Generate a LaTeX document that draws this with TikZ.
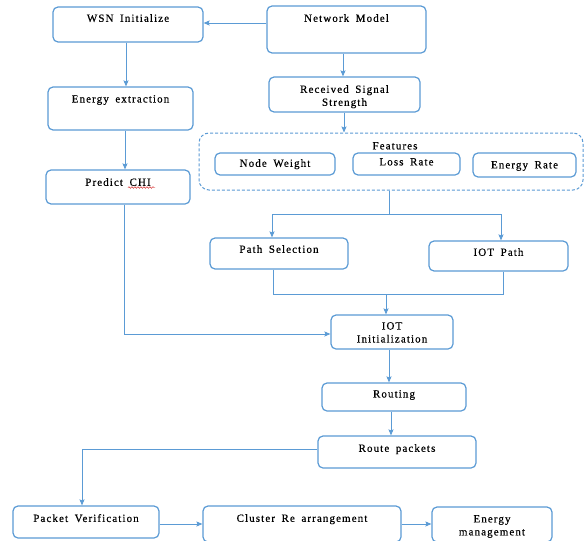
\documentclass[tikz,border=0pt]{standalone}
\usepackage{fontspec}
\setmainfont{Liberation Serif}[LetterSpace=10, WordSpace=1.7, FakeBold=0.4]
\usetikzlibrary{arrows.meta,decorations.pathmorphing}
\definecolor{bl}{RGB}{91,155,213}
\tikzset{
  box/.style={draw=bl, line width=1.2pt, rounded corners=5pt, inner sep=0pt},
  txt/.style={font=\fontsize{11}{13}\selectfont, align=center, inner sep=0pt, anchor=north, text=black},
  conn/.style={draw=bl, line width=0.9pt},
  arr/.style={conn, -{Stealth[length=6pt,width=5pt,inset=1pt]}},
}
% name, x1, y1, x2, y2, text, y of first text line
\newcommand\mybox[7]{%
  \node[box, minimum width={(#4-#2)*1pt}, minimum height={(#5-#3)*1pt}] (#1) at ({(#2+#4)/2},{(#3+#5)/2}) {};
  \node[txt] (#1t) at ({(#2+#4)/2},{#7-4}) {#6};
}
\begin{document}
\begin{tikzpicture}[x=1pt,y=-1pt]
\useasboundingbox (0,0) rectangle (584,541);
\fill[white] (0,0) rectangle (584,541);
% dashed features group
\node[draw=bl, line width=1pt, dash pattern=on 3pt off 2pt, rounded corners=10pt, minimum width=384pt, minimum height=57pt, inner sep=0pt] (feat) at (391,161.5) {};
\node[txt] (featt) at (395,142) {Features};

\mybox{wsn}{53}{7}{203}{42}{WSN Initialize}{18}
\mybox{nm}{267}{6}{426}{53}{Network Model}{18}
\mybox{ee}{48}{87}{193}{130}{Energy extraction}{99}
\mybox{rss}{269}{77}{420}{112}{Received Signal\\Strength}{89}
\mybox{nw}{215}{153}{335}{175}{Node Weight}{163}
\mybox{lr}{353}{153}{460}{175}{Loss Rate}{162}
\mybox{er}{473}{153}{576}{177}{Energy Rate}{165}
\mybox{chi}{46}{170}{190}{204}{Predict CHI}{182}
\mybox{ps}{210}{238}{348}{269}{Path Selection}{249}
\mybox{ip}{429}{241}{568}{271}{IOT Path}{252}
\mybox{ii}{331}{315}{453}{349}{IOT\\Initialization}{326}
\mybox{rt}{322}{383}{466}{411}{Routing}{394}
\mybox{rp}{318}{436}{476}{468}{Route packets}{448}
\mybox{pv}{13}{506}{159}{538}{Packet Verification}{518}
\mybox{cl}{203}{506}{401}{542}{Cluster Re arrangement}{518}
\mybox{em}{432}{507}{552}{542}{Energy\\management}{519}

% spell-check squiggle under CHI
\draw[red!80!black, line width=0.4pt, decorate, decoration={snake, amplitude=0.8pt, segment length=3pt}] (128,187.5) -- (155,187.5);

% connectors
\draw[arr] (nm.west |- 0,23) -- (wsn.east |- 0,23);
\draw[arr] (126,0 |- wsn.south) -- (126,0 |- ee.north);
\draw[arr] (125,0 |- ee.south) -- (125,0 |- chi.north);
\draw[arr] (343,0 |- nm.south) -- (343,0 |- rss.north);
\draw[arr] (344,0 |- rss.south) -- (344,0 |- feat.north);

\coordinate (j1) at (389,214);
\draw[conn] (j1 |- feat.south) -- (j1);
\draw[arr] (j1) -| (272,0 |- ps.north);
\draw[arr] (j1) -| (501,0 |- ip.north);

\coordinate (j2) at (386,294);
\draw[conn] (273,0 |- ps.south) |- (j2);
\draw[conn] (503,0 |- ip.south) |- (j2);
\draw[arr] (j2) -- (j2 |- ii.north);

\draw[arr] (124,0 |- chi.south) |- (ii.west |- 0,334);
\draw[arr] (389,0 |- ii.south) -- (389,0 |- rt.north);
\draw[arr] (391,0 |- rt.south) -- (391,0 |- rp.north);
\draw[arr] (rp.west |- 0,449) -| (82,0 |- pv.north);
\draw[arr] (pv.east |- 0,524) -- (cl.west |- 0,524);
\draw[arr] (cl.east |- 0,524) -- (em.west |- 0,524);
\end{tikzpicture}
\end{document}
